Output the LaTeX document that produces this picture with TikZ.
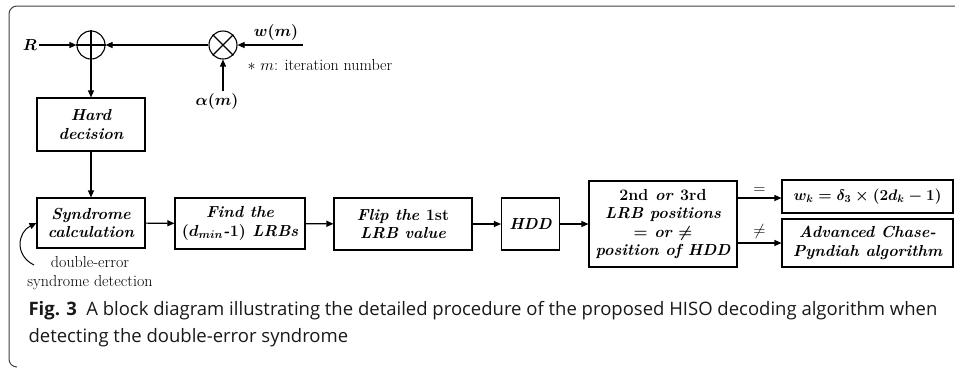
\RequirePackage{fix-cm}
\documentclass[tikz,border=0pt]{standalone}
\usepackage{amsmath,amssymb}
\usepackage{fontspec}
\newfontfamily\capfont{Open Sans}
\usetikzlibrary{arrows.meta}

\begin{document}
\begin{tikzpicture}[x=1pt,y=-1pt,line width=1.1pt,
	blk/.style={draw, align=center, inner sep=0pt, font=\fontsize{16}{18.5}\selectfont\bfseries\itshape},
	lbl/.style={inner sep=1pt, font=\fontsize{16}{18}\selectfont},
	note/.style={inner sep=0pt, font=\fontsize{16}{19}\selectfont},
	arr/.style={-{Triangle[length=7pt,width=6pt]}},
	opc/.style={draw, circle, minimum size=28pt, inner sep=0pt}]
	\useasboundingbox (0,0) rectangle (955,368);
	\draw[black!75, line width=1pt, rounded corners=8pt] (17,367) -| (9,6) -- (956,6);

	\node[opc] (sum) at (91,45) {};
	\draw (sum.north) -- (sum.south) (sum.west) -- (sum.east);
	\node[opc] (mul) at (223,45) {};
	\draw (mul.north west) -- (mul.south east) (mul.north east) -- (mul.south west);

	\node[lbl] (R) at (30,45) {$\boldsymbol{R}$};
	\node[lbl] (w) at (276,32) {$\boldsymbol{w(m)}$};
	\coordinate (win) at (303,45);
	\node[lbl] (alpha) at (217,101) {$\boldsymbol{\alpha(m)}$};
	\node[note, anchor=west] (iter) at (247,65) {$\ast\ m$: iteration number};

	\node[blk, minimum width=108pt, minimum height=53pt] (hard) at (91,124.5) {Hard\\decision};
	\node[blk, minimum width=108pt, minimum height=50pt] (synd) at (91,223) {Syndrome\\calculation};
	\node[blk, minimum width=130pt, minimum height=51pt] (find) at (240,223.5) {Find the\\$\boldsymbol{(d_{min}\text{-}1)}$ LRBs};
	\node[blk, minimum width=138pt, minimum height=52pt] (flip) at (403,224) {Flip the \textup{1st}\\LRB value};
	\node[blk, minimum width=58pt, minimum height=52pt] (hdd) at (530.5,224) {HDD};
	\node[blk, minimum width=148pt, minimum height=86pt] (cmp) at (663,224) {\textup{2nd} or \textup{3rd}\\LRB positions\\$\boldsymbol{=}$ or $\boldsymbol{\neq}$\\position of HDD};
	\node[blk, minimum width=171pt, minimum height=33pt] (res1) at (867.5,196.5) {\resizebox{148pt}{!}{$\boldsymbol{w_k=\delta_3\times(2d_k-1)}$}};
	\node[blk, minimum width=171pt, minimum height=48pt] (res2) at (867.5,243) {Advanced Chase-\\Pyndiah algorithm};

	\draw[arr] (R) -- (sum);
	\draw[arr] (win) -- (mul);
	\draw[arr] (alpha.north -| mul) -- (mul);
	\draw[arr] (mul) -- (sum);
	\draw[arr] (sum) -- (hard);
	\draw[arr] (hard) -- (synd);
	\draw[arr] (synd) -- (find);
	\draw[arr] (find) -- (flip);
	\draw[arr] (flip) -- (hdd);
	\draw[arr] (hdd) -- (cmp);
	\draw[arr] (cmp.east |- 0,198) -- node[note, above=4pt] {$=$} (res1.west |- 0,198);
	\draw[arr] (cmp.east |- res2.west) -- node[note, above=4pt] {$\neq$} (res2.west);

	\coordinate (dbl) at (34,265);
	\draw[arr, line width=1pt] (dbl) .. controls (14,255) and (18,232) .. (synd.west);
	\node[note, align=center] (dbltxt) at (90,273) {double-error\\syndrome detection};

	\node[anchor=north west, align=left, inner sep=0pt, text=black!90,
		font=\capfont\fontsize{18.5}{27}\selectfont] (cap) at (28,301)
		{\textbf{Fig. 3}\enspace A block diagram illustrating the detailed procedure of the proposed HISO decoding algorithm when\\detecting the double-error syndrome};
\end{tikzpicture}
\end{document}
